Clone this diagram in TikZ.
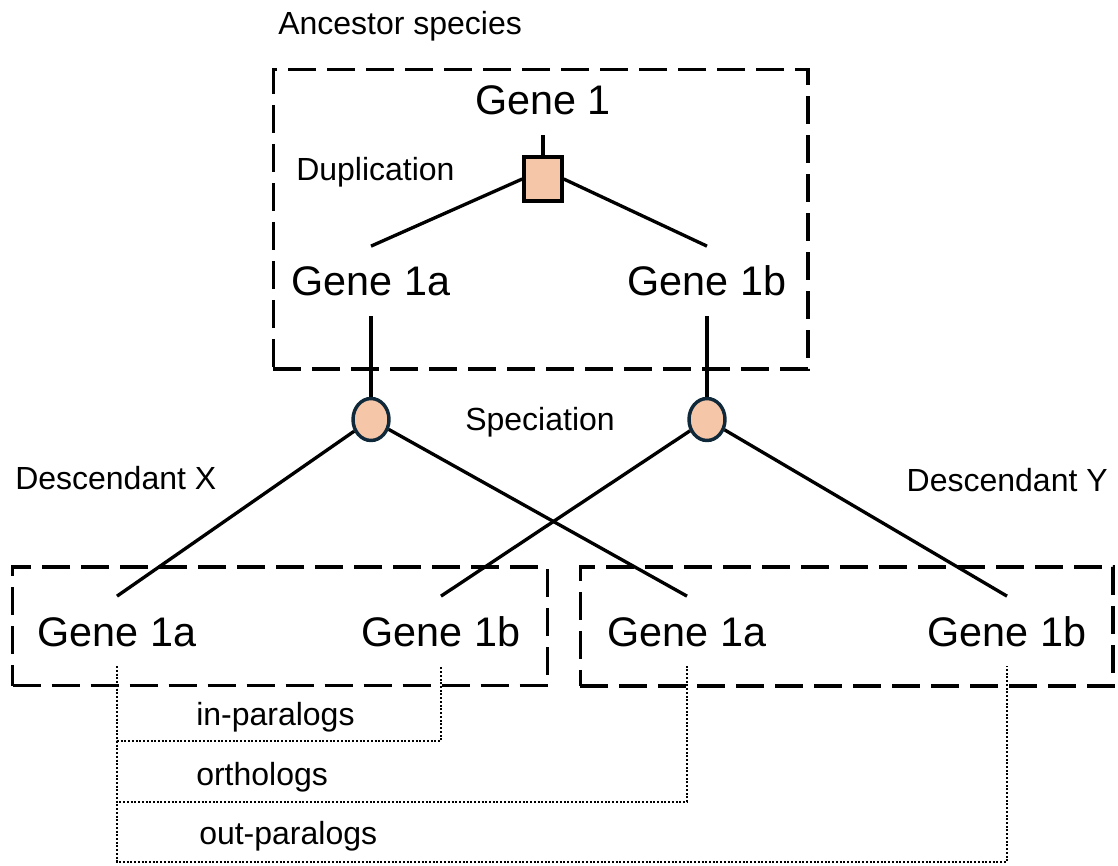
\documentclass[tikz,border=0pt]{standalone}
\usepackage{fontspec}
\setmainfont{Liberation Sans}
\usetikzlibrary{shapes.geometric,calc}

\definecolor{peach}{HTML}{F6C6A8}
\definecolor{rimdark}{HTML}{10293A}

\tikzset{
  label/.style={font=\fontsize{24pt}{28pt}\selectfont, inner sep=0pt},
  gene/.style={font=\fontsize{31pt}{36pt}\selectfont, anchor=base,
    text height=22.2pt, text depth=0pt, inner xsep=0pt, inner ysep=15pt},
  groupbox/.style={draw, line width=2.8pt, dash pattern=on 21pt off 8.25pt},
  dupnode/.style={draw, line width=2.6pt, fill=peach, rectangle,
    minimum width=28.5pt, minimum height=33pt, inner sep=0pt},
  specnode/.style={draw=rimdark, line width=2.6pt, fill=peach, ellipse,
    minimum width=27pt, minimum height=31.5pt, inner sep=0pt},
  branch/.style={line width=2.5pt},
  relation/.style={line width=2pt, dash pattern=on 1.5pt off 1.3pt},
}

\begin{document}
\begin{tikzpicture}[x=0.75pt, y=-0.75pt]
\useasboundingbox (0,0) rectangle (1118,866);

% species boxes
\node[groupbox, minimum width=400.9pt, minimum height=224.6pt] (anc) at (540.75,219.25) {};
\node[groupbox, minimum width=401.25pt, minimum height=88.9pt] (dx) at (280,626.25) {};
\node[groupbox, minimum width=399.4pt, minimum height=89.25pt] (dy) at (846.75,626.5) {};

% captions
\node[label, anchor=base west] (anclab) at (278,35) {Ancestor species};
\node[label, anchor=base west] (duplab) at (296,181) {Duplication};
\node[label, anchor=base] (speclab) at (540,431) {Speciation};
\node[label, anchor=base west] (dxlab) at (15,489) {Descendant X};
\node[label, anchor=base east] (dylab) at (1108,491) {Descendant Y};

% ancestral genes
\node[gene] (g1) at (543,115) {Gene 1};
\node[dupnode] (dup) at (543,179) {};
\node[gene] (ga) at (371,296) {Gene 1a};
\node[gene] (gb) at (707,296) {Gene 1b};

% speciation events
\node[specnode] (ca) at (371,419.5) {};
\node[specnode] (cb) at (707,419.5) {};

% descendant genes
\node[gene] (xa) at (117,646) {Gene 1a};
\node[gene] (xb) at (441,646) {Gene 1b};
\node[gene] (ya) at (687,646) {Gene 1a};
\node[gene] (yb) at (1007,646) {Gene 1b};

% gene tree
\draw[branch] (g1.south) -- (dup.north);
\draw[branch] (dup.west) -- (ga.north);
\draw[branch] (dup.east) -- (gb.north);
\draw[branch] (ga.south) -- (ca.north);
\draw[branch] (gb.south) -- (cb.north);
\draw[branch] (ca) -- (xa.north);
\draw[branch] (ca) -- (ya.north);
\draw[branch] (cb) -- (xb.north);
\draw[branch] (cb) -- (yb.north);

% relationship brackets
\coordinate (inrow) at (0,741);
\coordinate (orthrow) at (0,802);
\coordinate (outrow) at (0,862);
\draw[relation] (xa.south) -- (xa.south |- inrow) -| (xb.south);
\draw[relation] (xa.south) -- (xa.south |- orthrow) -| (ya.south);
\draw[relation] (xa.south) -- (xa.south |- outrow) -| (yb.south);

\node[label, anchor=base west] (inlab) at (196,725) {in-paralogs};
\node[label, anchor=base west] (orthlab) at (196,785) {orthologs};
\node[label, anchor=base west] (outlab) at (199,844) {out-paralogs};
\end{tikzpicture}
\end{document}
